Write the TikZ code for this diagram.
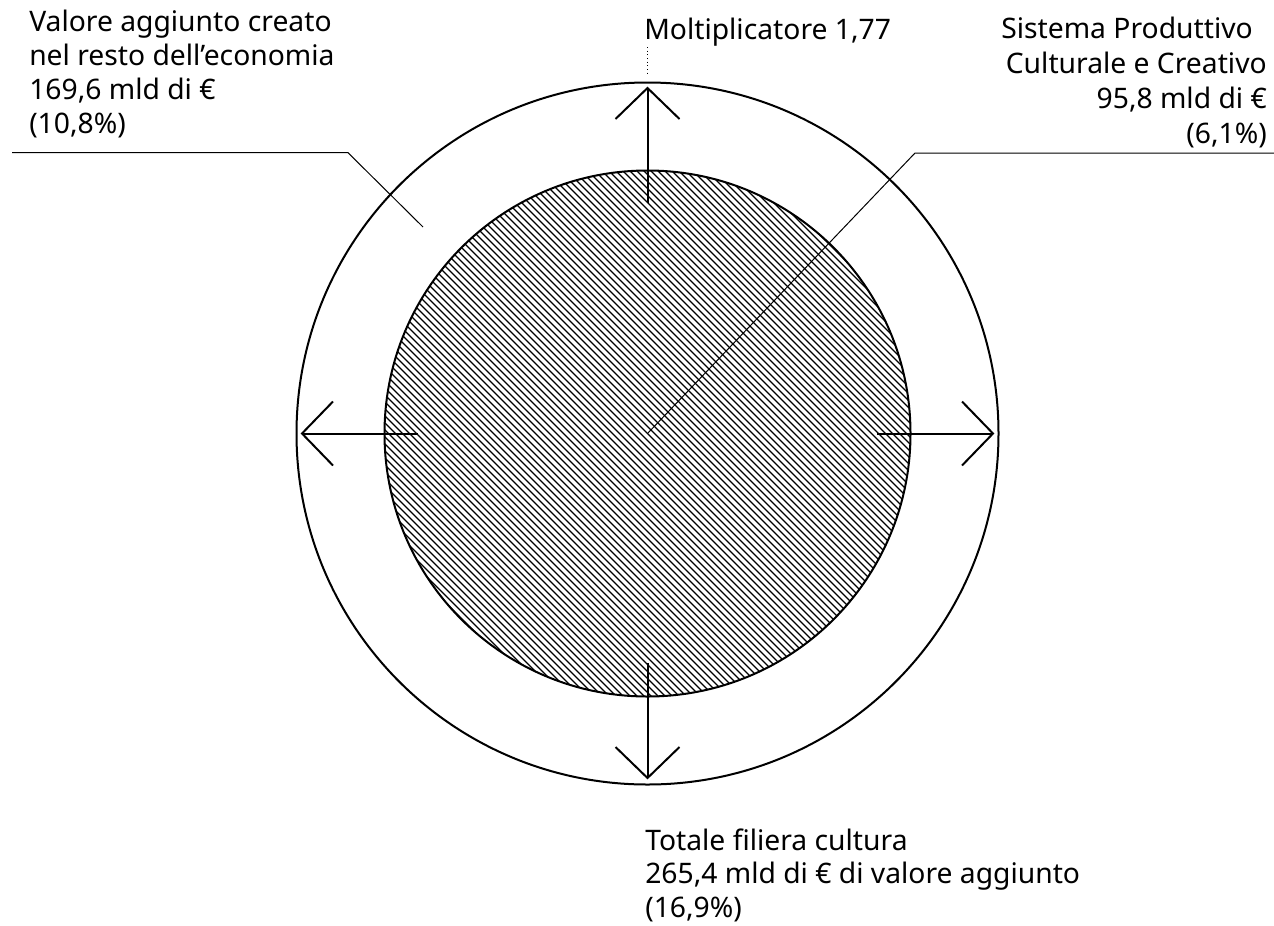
\documentclass[tikz,border=0pt]{standalone}
\usepackage{fontspec}
\setmainfont{Noto Sans}
\usetikzlibrary{calc}
\begin{document}
\begin{tikzpicture}[x=0.75pt,y=-0.75pt,
  ring/.style={circle,draw,line width=1.5pt,inner sep=0pt,outer sep=0pt},
  arr/.style={line width=1.5pt},
  leader/.style={line width=0.75pt},
  hatch/.style={line width=0.9pt},
  lbl/.style={inner sep=0pt,font=\fontsize{21.2}{25.1}\selectfont}]
\useasboundingbox (0,0) rectangle (1274,925);
\coordinate (c) at (647.5,433.5);
% hatched inner disc
\begin{scope}
  \clip (c) circle[radius=263];
  \foreach \i in {-90,...,90}{
    \draw[hatch] ($(c)+(\i*7-320,-320)$) -- ($(c)+(\i*7+320,320)$);
  }
\end{scope}
\node[ring,minimum size=394.5pt] (inner) at (c) {};
\node[ring,minimum size=526.5pt] (outer) at (c) {};
% arrows
\coordinate (sU) at (647.5,203); \coordinate (tU) at (647.5,88);
\coordinate (sD) at (647.5,663); \coordinate (tD) at (647.5,778);
\coordinate (sL) at (418,433.5); \coordinate (tL) at (302,433.5);
\coordinate (sR) at (877,433.5); \coordinate (tR) at (993,433.5);
\draw[arr] (sU) -- (tU);
\draw[arr] (tU) ++(-32,31) -- (tU) -- ++(32,31);
\draw[arr] (sD) -- (tD);
\draw[arr] (tD) ++(-32,-31) -- (tD) -- ++(32,-31);
\draw[arr] (sL) -- (tL);
\draw[arr] (tL) ++(31,-32) -- (tL) -- ++(31,32);
\draw[arr] (sR) -- (tR);
\draw[arr] (tR) ++(-31,-32) -- (tR) -- ++(-31,32);
% labels
\node[lbl,anchor=base west] (molt) at (644,39) {Moltiplicatore 1,77};
\coordinate (dotTop) at (647.5,47);
\coordinate (dotBot) at (647.5,76);
\draw[dotted,line width=0.75pt] (dotTop) -- (dotBot);
\node[lbl,anchor=base west,align=left,font=\fontsize{21.2}{25.3}\selectfont] (resto) at (29,133) {Valore aggiunto creato\\nel resto dell’economia\\169,6 mld di €\\(10,8\%)};
\node[lbl,anchor=base east,align=right,font=\fontsize{21.2}{26.2}\selectfont] (spcc) at (1267,143) {Sistema Produttivo\hspace*{10.5pt}\\Culturale e Creativo\\95,8 mld di €\\(6,1\%)};
\node[lbl,anchor=base west,align=left,font=\fontsize{21.2}{24.8}\selectfont] (tot) at (645,917) {Totale filiera cultura\\265,4 mld di € di valore aggiunto\\(16,9\%)};
% leaders
\coordinate (lA) at (12,152.7); \coordinate (lB) at (348,152.7); \coordinate (lC) at (423,227);
\draw[leader] (lA) -- (lB) -- (lC);
\coordinate (rB) at (915,153); \coordinate (rA) at (1274,153);
\draw[leader] (c) -- (rB) -- (rA);
\end{tikzpicture}
\end{document}
